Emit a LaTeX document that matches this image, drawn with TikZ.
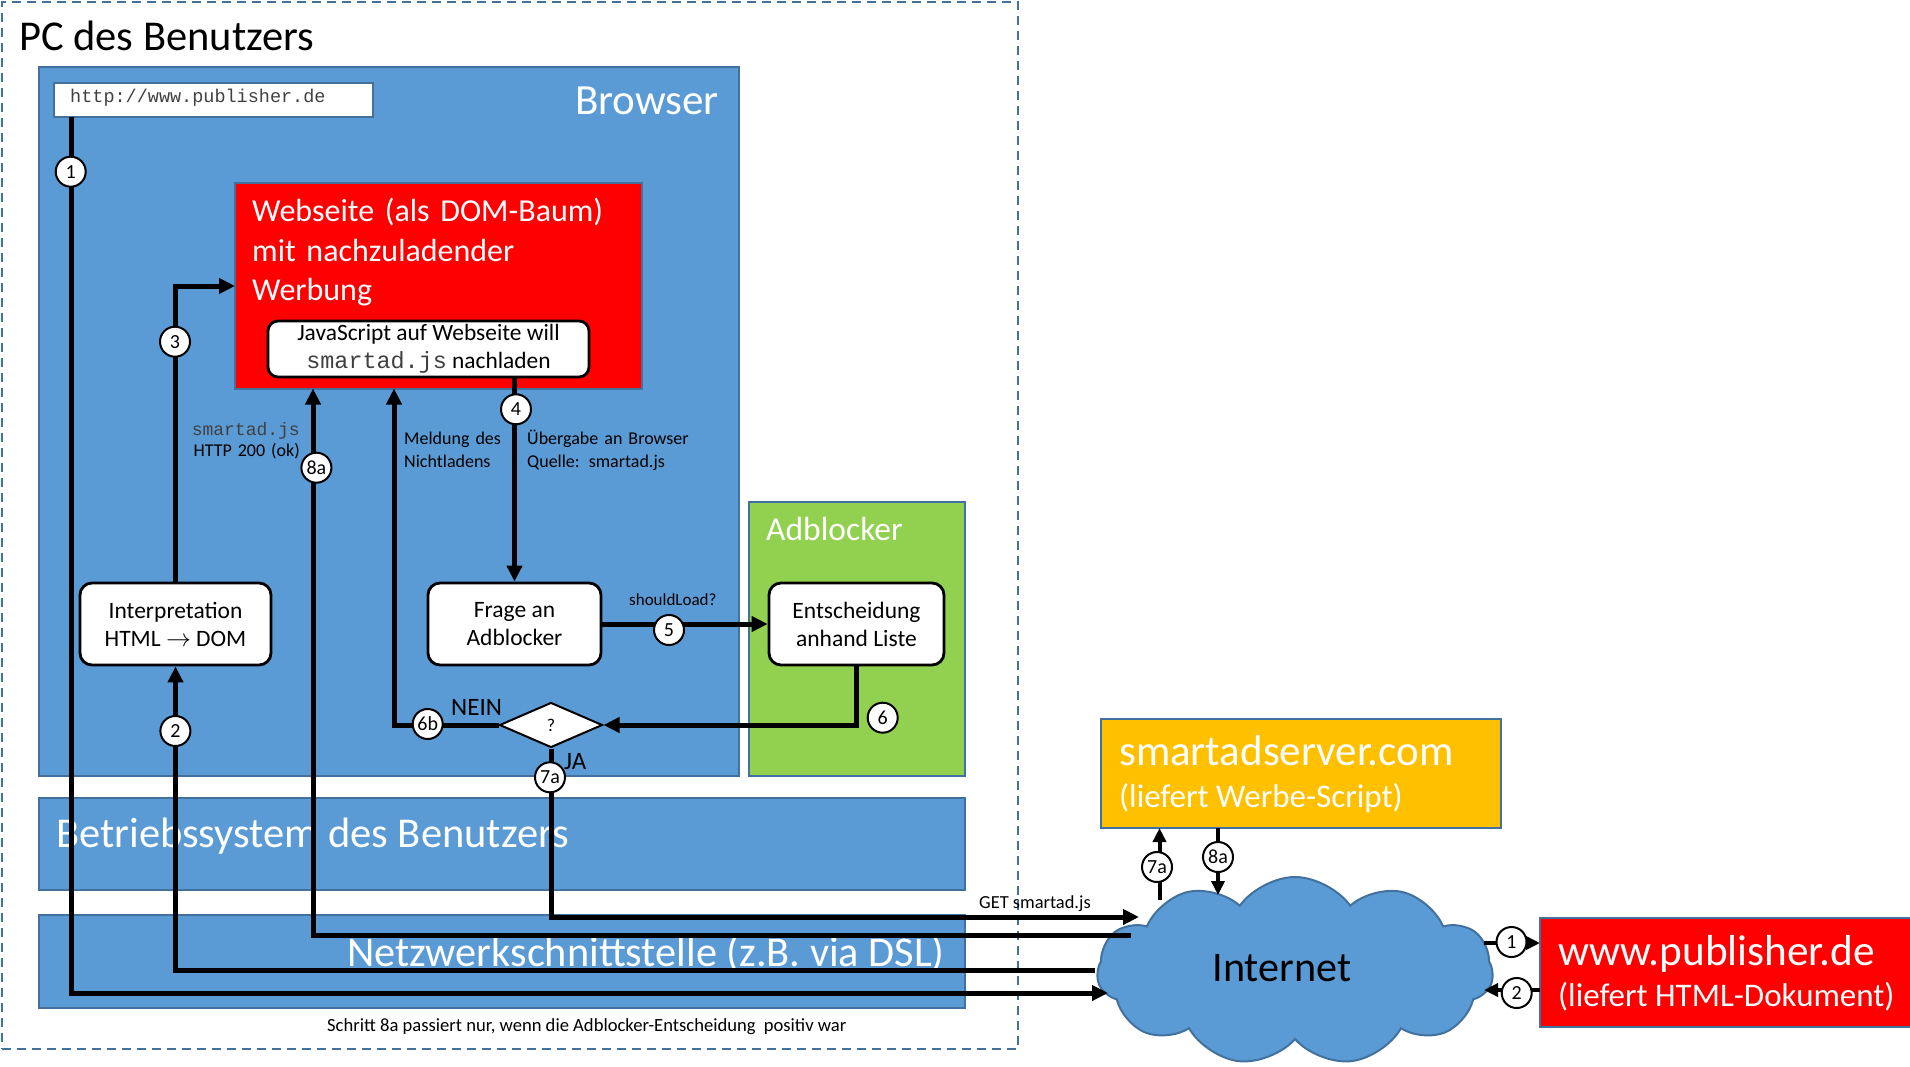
\documentclass[tikz,border=0pt]{standalone}
\usepackage{fontspec}
\setmainfont{Carlito}
\newfontfamily\cour{Liberation Mono}
\usetikzlibrary{arrows.meta,shapes.geometric,shapes.symbols}
\definecolor{oblue}{HTML}{5B9BD5}
\definecolor{obord}{HTML}{41719C}
\definecolor{ogreen}{HTML}{92D050}
\definecolor{oorange}{HTML}{FFC000}
\definecolor{ored}{HTML}{FF0000}
\definecolor{dgrey}{HTML}{404040}
\newcommand{\fsz}[2]{\fontsize{#1}{#2}\selectfont}
\begin{document}
\begin{tikzpicture}[x=1pt,y=-1pt,
  area/.style={rectangle, draw=obord, line width=2pt, inner sep=0pt, outer sep=0pt},
  rbox/.style={rectangle, rounded corners=12pt, draw=black, line width=2.8pt, fill=white, align=center, inner sep=0pt, font=\fsz{23.5}{28}},
  conn/.style={line width=5pt, -{Triangle[length=16pt,width=15pt]}},
  conns/.style={line width=4pt, -{Triangle[length=14pt,width=13pt]}},
  num/.style={circle, draw=black, line width=2pt, fill=white, minimum size=30pt, inner sep=0pt, font=\fsz{20}{20}},
  lbl/.style={inner sep=0pt, font=\fsz{18}{23.5}},
  wtxt/.style={inner sep=0pt, text=white},
]
\useasboundingbox (0,0) rectangle (1910,1067);

% ---------- areas ----------
\node[area, dashed, dash pattern=on 9pt off 6pt, minimum width=1016pt, minimum height=1047pt] (pc) at (510,525.5) {};
\node[area, fill=oblue, minimum width=700pt, minimum height=708.5pt] (browser) at (388.5,421.75) {};
\node[area, fill=oblue, minimum width=926pt, minimum height=92pt] (betr) at (502,844) {};
\node[area, fill=oblue, minimum width=926pt, minimum height=93pt] (netz) at (502,961.5) {};
\node[area, fill=ogreen, minimum width=216pt, minimum height=274pt] (adbl) at (857,639) {};
\node[area, fill=white, minimum width=319.5pt, minimum height=34pt] (url) at (213.25,100) {};
\node[area, fill=ored, minimum width=407pt, minimum height=205pt] (red) at (438.5,286) {};
\node[area, fill=oorange, minimum width=400pt, minimum height=109pt] (smart) at (1301,773.5) {};
\node[area, fill=ored, minimum width=380pt, minimum height=109pt] (pub) at (1730,972.5) {};
\node[cloud, cloud puffs=11, cloud puff arc=110, cloud ignores aspect, minimum width=396pt, minimum height=188pt, fill=oblue, draw=obord, line width=2pt, inner sep=0pt] (net) at (1295,971) {};

% ---------- texts of areas ----------
\node[inner sep=0pt, anchor=base west, font=\fsz{42.5}{48}] (ttl) at (19,51) {PC des Benutzers};
\node[wtxt, anchor=base east, font=\fsz{43}{48}] (tbrowser) at (719,115) {Browser};
\node[inner sep=0pt, anchor=base west, text=dgrey, font=\cour\fsz{18.5}{20}] (turl) at (70,103) {http://www.publisher.de};
\node[wtxt, anchor=base west, text width=390pt, align=left, font=\fsz{32}{39.5}] (tred) at (252,222) {Webseite (als DOM-Baum)\\mit nachzuladender\\Werbung};
\node[wtxt, anchor=base west, font=\fsz{33.5}{38}] (tadbl) at (766,540) {Adblocker};
\node[wtxt, anchor=base west, font=\fsz{42.5}{48}] (tbetr) at (56,847) {Betriebssystem des Benutzers};
\node[wtxt, anchor=base east, font=\fsz{42.3}{48}] (tnetz) at (945,966) {Netzwerkschnittstelle (z.B. via DSL)};
\node[wtxt, anchor=base west, font=\fsz{43}{48}] (tsmart1) at (1119,765) {smartadserver.com};
\node[wtxt, anchor=base west, font=\fsz{33}{40}] (tsmart2) at (1119,807) {(liefert Werbe-Script)};
\node[wtxt, anchor=base west, font=\fsz{43.3}{48}] (tpub1) at (1558,965) {www.publisher.de};
\node[wtxt, anchor=base west, font=\fsz{33}{40}] (tpub2) at (1558,1006) {(liefert HTML-Dokument)};
\node[inner sep=0pt, anchor=base, font=\fsz{42.2}{48}] (tnet) at (1282,981) {Internet};

% ---------- process boxes ----------
\node[rbox, rounded corners=10pt, minimum width=321pt, minimum height=56pt, font=\fsz{23.4}{28.3}] (js) at (428.5,349) {JavaScript auf Webseite will\\{\cour\color{dgrey}smartad.js} nachladen};
\node[rbox, minimum width=191pt, minimum height=82pt] (interp) at (175.5,624) {Interpretation\\HTML $\rightarrow$ DOM};
\node[rbox, minimum width=173pt, minimum height=82pt] (frage) at (514.5,624) {Frage an\\Adblocker};
\node[rbox, minimum width=175pt, minimum height=82pt] (entsch) at (856.5,624) {Entscheidung\\anhand Liste};
\node[diamond, draw=black, line width=2pt, fill=white, aspect=2.3, minimum width=103pt, minimum height=45pt, inner sep=0pt, font=\fsz{18}{18}] (q) at (551,725) {?};

% ---------- labels ----------
\node[lbl, anchor=base east, text width=150pt, align=right] (lsm) at (300,435) {{\cour\color{dgrey}smartad.js}\\[-2pt]HTTP 200 (ok)};
\node[lbl, anchor=base west, text width=120pt, align=left] (lmeld) at (404,444) {Meldung des\\Nichtladens};
\node[lbl, anchor=base west, text width=200pt, align=left] (luebg) at (527,444) {Übergabe an Browser\\Quelle: smartad.js};
\node[inner sep=0pt, anchor=base west, font=\fsz{17}{20}] (lshould) at (629,605) {shouldLoad?};
\node[inner sep=0pt, anchor=base west, font=\fsz{25}{28}] (lnein) at (451,715) {NEIN};
\node[inner sep=0pt, anchor=base west, font=\fsz{25}{28}] (lja) at (564,769) {JA};
\node[inner sep=0pt, anchor=base west, font=\fsz{18.4}{20}] (lget) at (979,908) {GET smartad.js};
\node[inner sep=0pt, anchor=base west, font=\fsz{18.6}{20}] (lnote) at (327,1031) {Schritt 8a passiert nur, wenn die Adblocker-Entscheidung\hspace{4pt} positiv war};

% ---------- connector points ----------
\coordinate (L1) at (71,993);
\coordinate (L2) at (175.5,970);
\coordinate (L3) at (175.5,286);
\coordinate (L8) at (313,935);
\coordinate (L6) at (856.5,725);
\coordinate (L6b) at (394,725);
\coordinate (L7) at (551,917);
\coordinate (cA1) at (1108,993);
\coordinate (cA2) at (1095,970);
\coordinate (cA8) at (1131,935);
\coordinate (cA7) at (1139,917);
\coordinate (cU7) at (1159.5,900);
\coordinate (cD8) at (1218,895);
\coordinate (cR1) at (1484,943);
\coordinate (cR2) at (1484,990);

% ---------- connectors ----------
\draw[conn] (url.south -| L1) -- (L1) -- (cA1);
\draw[conn] (cA2) -- (L2) -- (interp.south -| L2);
\draw[conn] (interp.north -| L3) -- (L3) -- (red.west |- L3);
\draw[conn] (cA8) -- (L8) -- (red.south -| L8);
\draw[conn] (js.south -| frage.north) -- (frage.north);
\draw[conn] (frage.east) -- (entsch.west);
\draw[conn] (entsch.south) -- (L6) -- (q.east);
\draw[conn] (q.west) -- (L6b) -- (red.south -| L6b);
\draw[conn] (q.south) -- (L7) -- (cA7);
\draw[conns] (cU7) -- (smart.south -| cU7);
\draw[conns] (smart.south -| cD8) -- (cD8);
\draw[conns] (cR1) -- (pub.west |- cR1);
\draw[conns] (pub.west |- cR2) -- (cR2);

% ---------- step numbers ----------
\node[num] (n1) at (70.7,171.7) {1};
\node[num] (n2) at (175.4,731) {2};
\node[num] (n3) at (175,341.7) {3};
\node[num] (n4) at (516,409.3) {4};
\node[num] (n5) at (669,630) {5};
\node[num] (n6) at (882.7,717.7) {6};
\node[num] (n6b) at (427.7,724) {6b};
\node[num] (n7a) at (550,777.3) {7a};
\node[num] (n8a) at (316.4,467.7) {8a};
\node[num] (n7b) at (1157,867) {7a};
\node[num] (n8b) at (1218,857) {8a};
\node[num] (nr1) at (1511.5,942) {1};
\node[num] (nr2) at (1516.7,993) {2};
\end{tikzpicture}
\end{document}
